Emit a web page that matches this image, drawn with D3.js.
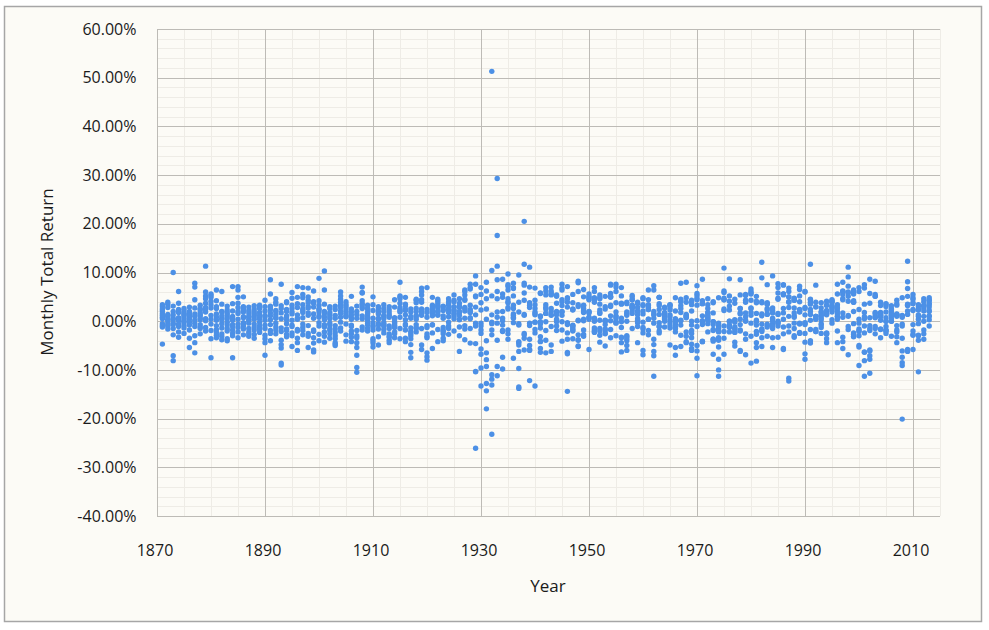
<!DOCTYPE html>
<html><head><meta charset="utf-8">
<script src="https://d3js.org/d3.v7.min.js"></script>
<style>
body{margin:0;background:#ffffff;}
svg text{font-family:"Open Sans","Noto Sans",sans-serif;fill:#1a1a1a;}
</style></head>
<body>
<svg id="chart" width="989" height="630"></svg>
<script>
// Monthly total returns in percent, 12 per year (Jan..Dec)
const returns1870s = [ // 1871-1879
 [2.1,3.0,0.5,-1.2,3.4,0.8,-0.5,1.6,-4.7,-0.9,2.5,1.2],
 [3.5,0.2,-1.0,1.4,2.8,-0.3,0.9,-1.6,1.1,3.9,-0.8,0.4],
 [10.0,-1.5,0.6,-7.1,2.0,-8.1,1.3,-0.7,-2.8,0.3,3.1,-0.4],
 [6.1,1.8,-2.2,0.5,3.7,-1.1,2.4,0.1,-0.6,1.9,-3.3,0.7],
 [2.6,-0.3,1.2,-2.5,0.8,1.7,-1.4,2.2,0.3,-0.9,1.5,0.0],
 [2.9,-3.5,1.1,-0.8,2.0,0.4,-5.4,1.6,-1.8,0.6,-0.2,1.3],
 [7.8,7.0,-4.4,-6.5,1.5,-0.4,2.7,0.2,-3.0,4.4,1.0,-1.1],
 [2.4,1.1,-1.2,1.4,0.3,-2.6,2.5,-0.7,1.8,0.6,3.3,-1.5],
 [11.3,5.2,3.7,2.4,0.5,6.0,-1.3,4.6,1.9,2.8,0.1,-2.0]
];
const returns1880s = [
 [5.6,4.1,-7.5,-3.6,1.2,4.9,0.4,-1.9,2.7,5.3,-0.6,3.4],
 [6.4,-1.7,2.6,-2.9,4.2,0.8,-3.4,1.5,-0.9,3.0,-2.3,0.2],
 [-3.1,2.0,-1.4,6.1,0.6,-2.6,1.9,3.5,-0.5,-3.8,1.1,0.3],
 [1.4,-2.0,3.1,-0.8,-4.0,0.9,2.3,-1.5,0.5,-3.6,1.8,-0.2],
 [-1.8,3.6,-2.5,-7.5,-3.0,1.0,7.1,0.2,-1.1,2.1,-0.7,0.6],
 [7.1,-1.3,2.8,6.4,-2.2,0.4,4.9,1.6,-0.6,3.7,2.0,-3.4],
 [2.4,-1.0,0.7,-2.8,5.0,1.9,-0.3,3.0,-1.6,0.9,2.6,-0.5],
 [0.8,-2.2,1.7,-0.4,2.9,-3.1,0.3,-1.5,2.2,-2.6,1.0,0.1],
 [-2.7,1.3,-1.8,2.5,-0.6,0.9,3.2,-3.5,1.6,-1.2,0.4,2.0],
 [2.8,-1.4,0.5,3.3,-0.9,1.8,-2.3,0.7,2.6,-0.2,1.2,-1.7]
];
const returns1890s = [
 [-7.0,2.1,-3.6,0.9,4.3,-1.5,1.2,-4.4,0.2,-2.9,3.0,-0.8],
 [8.5,-1.9,2.4,-4.0,1.7,0.3,-2.5,5.6,3.1,-0.7,1.1,2.8],
 [3.5,2.0,-1.2,0.6,-2.6,1.4,3.9,-0.4,2.2,-1.8,0.8,4.6],
 [-8.6,-9.0,7.6,-5.5,2.6,-3.9,-1.4,3.2,0.5,-2.1,1.7,-4.8],
 [3.8,-1.6,0.9,2.4,-3.2,1.1,-0.5,4.0,-1.9,0.3,2.0,-2.7],
 [5.9,-0.8,2.6,4.7,-2.4,1.5,3.3,-1.1,0.2,-3.0,1.9,-5.2],
 [-4.4,2.8,-1.7,0.6,-3.5,1.3,-6.0,4.9,7.1,3.6,-2.0,0.4],
 [2.5,-0.6,1.8,-1.3,3.4,4.8,6.9,5.5,-1.9,0.7,-2.8,2.2],
 [-5.4,3.0,6.8,-2.5,4.3,1.2,2.7,-0.9,1.7,-3.1,5.0,3.8],
 [6.2,-2.1,4.0,-6.3,1.5,-3.4,2.9,0.6,-1.8,3.7,-4.5,-5.9]
];
const returns1900s = [
 [3.3,-1.0,1.9,-2.7,-4.0,0.8,2.4,-0.3,1.1,4.2,8.8,2.5],
 [10.3,0.9,-2.2,6.4,-3.1,3.5,-4.3,1.6,-1.2,0.3,2.0,-0.7],
 [2.6,-0.8,1.4,-1.9,0.5,3.0,-2.6,1.8,-0.4,-3.5,-1.5,0.9],
 [-1.6,-3.0,-4.4,0.6,-2.3,-5.0,-3.6,1.2,-4.7,-0.9,3.1,2.4],
 [0.8,-1.4,2.1,3.3,-0.2,1.6,4.5,2.8,5.2,6.0,3.9,-2.0],
 [4.0,3.1,1.8,-2.8,-4.1,2.2,3.5,0.9,1.4,-0.6,2.7,1.0],
 [2.5,-3.3,0.4,-4.2,-1.1,-2.6,1.9,5.1,0.7,-0.8,1.3,-2.0],
 [-3.4,-9.5,-10.5,2.0,-5.4,-1.9,3.1,-7.0,0.6,-4.4,-3.0,1.4],
 [5.8,-1.2,3.6,2.9,7.0,0.5,4.2,2.6,-1.8,3.4,5.9,1.1],
 [-0.7,-2.0,2.5,3.3,1.8,0.9,2.6,1.5,-0.4,0.2,-1.4,0.7]
];
const returns1910s = [
 [-3.6,-1.8,2.2,-4.5,-0.9,-5.3,-4.0,3.4,0.6,5.0,-1.2,-0.3],
 [1.8,2.7,-0.5,-1.6,2.1,0.4,-0.8,-4.9,-3.2,1.5,3.0,0.6],
 [0.9,-0.6,3.4,2.6,-1.0,1.2,0.5,2.0,-0.3,-1.7,-2.4,-0.8],
 [-2.6,-3.9,0.8,-1.5,-3.0,-4.4,2.3,3.0,1.2,-3.3,-1.0,1.7],
 [4.4,-1.3,-0.5,-2.6,0.7,-0.9,-3.4,-0.2,0.4,-1.1,-2.2,2.9],
 [2.1,-1.5,5.0,8.0,-3.6,2.4,3.7,4.6,1.9,5.2,0.8,2.8],
 [-1.8,-0.6,1.3,-3.5,2.4,0.3,-0.9,3.1,4.9,2.2,3.5,-4.2],
 [0.6,-3.0,2.5,-2.1,-1.4,1.9,-3.6,-4.8,-2.5,-7.5,-6.4,1.0],
 [4.3,0.9,-1.5,2.6,3.8,-0.7,1.2,0.4,2.0,4.5,-2.2,-1.3],
 [1.2,2.5,3.9,5.4,6.8,2.0,4.4,-5.8,1.6,6.1,-4.9,-1.5]
];
const returns1920s = [
 [0.8,-8.0,6.9,-3.4,-6.5,-0.9,-3.1,1.8,2.4,-1.3,-7.3,-2.6],
 [3.0,1.5,-0.7,1.9,-2.4,-5.6,2.2,-0.8,3.3,1.1,4.9,2.6],
 [2.7,3.6,4.1,3.0,2.0,-1.7,3.2,4.5,1.2,2.0,-4.2,1.4],
 [3.1,2.2,-1.3,-4.0,-3.5,-2.6,-1.9,0.6,1.1,-2.1,3.0,2.5],
 [2.4,-1.5,-1.0,-2.7,1.8,3.3,4.0,2.6,-0.2,0.9,4.6,3.7],
 [2.2,1.0,-2.0,2.9,4.0,0.5,4.3,1.6,2.2,5.4,1.5,3.0],
 [0.4,-1.2,-6.2,1.8,0.3,4.6,3.7,3.1,1.2,-3.0,2.8,2.0],
 [-0.9,4.3,0.6,2.1,5.4,-1.6,6.4,2.8,4.5,-3.8,6.1,2.6],
 [0.7,-1.5,7.6,3.3,2.2,-4.5,1.8,6.6,2.4,1.9,6.9,0.5],
 [5.2,-0.4,-1.0,1.3,-4.6,9.3,5.0,7.6,-10.3,-26.1,-10.4,2.9]
];
const returns1930s = [
 [5.5,3.8,6.9,-1.0,-1.8,-13.3,2.3,-0.4,-5.7,-9.6,-2.5,-6.8],
 [6.2,8.0,-6.5,-9.3,-12.8,-14.3,2.5,0.4,-18.0,4.6,-7.9,-4.0],
 [-0.5,5.2,-11.9,-23.2,-13.1,-11.0,51.3,10.4,-2.8,-1.8,-0.2,1.3],
 [0.8,-11.2,4.6,29.3,17.6,11.3,-9.3,8.5,-0.4,-3.9,6.1,1.9],
 [8.6,-2.1,0.1,-2.0,-7.4,2.0,-9.8,5.6,-0.8,-1.9,4.9,0.6],
 [-3.7,-1.8,-2.6,9.7,3.8,6.4,7.2,2.5,2.8,7.5,4.6,4.0],
 [6.9,2.6,0.8,-7.6,5.2,3.3,6.7,1.2,0.6,7.8,1.5,-0.3],
 [3.9,1.9,-0.8,-6.2,-0.5,-4.4,9.5,-4.9,-13.8,-9.7,-13.5,-4.2],
 [1.4,5.8,-5.9,20.5,-3.5,11.7,7.4,-2.5,1.2,7.8,-2.8,4.3],
 [-5.8,3.8,-12.2,-0.4,7.0,-5.0,11.1,-6.0,2.8,-0.9,-3.7,3.3]
];
const returns1940s = [
 [-2.4,1.3,1.6,-0.2,-13.3,6.8,3.4,2.6,1.9,4.3,-1.7,-0.2],
 [-4.2,-1.4,1.1,-5.6,0.9,5.8,5.7,-0.1,-0.6,-6.4,-3.2,-4.1],
 [1.6,-1.9,-6.5,-3.9,6.2,2.5,3.4,1.6,2.8,6.9,-0.1,5.4],
 [7.0,5.8,5.5,1.2,5.4,2.0,-4.9,1.3,2.6,-1.1,-6.2,6.2],
 [1.7,0.4,2.0,-1.0,5.1,5.4,-1.9,1.6,-0.1,0.2,1.3,3.7],
 [2.0,6.8,-4.1,7.6,1.9,-0.1,-1.8,6.4,4.4,3.2,4.0,1.2],
 [7.1,-6.4,4.8,3.9,2.9,-3.7,-2.4,-6.7,-14.4,-0.7,-0.3,4.6],
 [2.5,-0.8,-1.5,-3.6,-0.9,5.5,3.8,-2.0,-1.1,2.4,-1.8,2.3],
 [-3.8,-3.9,8.2,3.0,7.9,0.1,-5.1,0.2,-2.8,6.1,-5.2,3.4],
 [0.4,-2.7,3.3,-1.8,-3.1,0.1,6.5,2.2,2.6,3.2,1.8,5.0]
];
const returns1950s = [
 [1.9,2.0,0.7,4.9,5.1,-5.8,0.8,4.4,5.6,0.4,1.7,4.6],
 [6.1,0.6,-1.8,4.8,-2.1,-2.3,6.9,4.3,0.0,-1.4,0.5,3.9],
 [1.6,-2.9,4.8,-4.3,2.3,4.6,1.8,-1.5,-2.0,0.2,5.4,3.5],
 [-0.7,-1.8,-2.4,-2.6,0.0,-1.6,2.5,-5.1,0.1,5.1,3.0,0.2],
 [5.1,1.1,3.0,4.9,3.3,0.1,5.7,-3.4,7.6,-1.7,7.4,5.0],
 [1.9,0.9,-0.4,3.8,0.6,7.0,6.1,-0.3,1.1,-3.0,7.6,0.0],
 [-3.4,3.6,6.9,-0.1,-6.3,3.7,5.2,-3.3,-4.4,0.6,-1.3,3.5],
 [-4.0,-3.0,1.9,3.9,3.6,0.0,1.2,-5.0,-6.0,-3.2,1.6,-3.6],
 [4.4,-1.5,3.3,3.2,2.2,2.8,4.4,1.6,5.0,2.8,2.8,5.3],
 [0.5,0.2,0.1,3.9,2.1,-0.3,3.6,-1.1,-4.4,1.3,1.9,2.8]
];
const returns1960s = [
 [-6.9,1.5,-1.3,-1.6,3.4,2.1,-2.4,3.2,-6.0,-0.2,4.6,4.8],
 [6.4,3.2,2.8,0.4,2.4,-2.8,3.4,2.4,-1.9,2.9,4.4,0.4],
 [-3.7,2.0,-0.4,-6.2,-11.3,-7.1,6.4,1.5,-4.8,0.6,7.3,1.3],
 [4.9,-2.4,3.6,4.9,1.4,-2.0,-0.3,4.9,-1.1,3.2,-1.1,2.4],
 [2.7,1.0,1.5,0.6,1.6,1.6,1.8,-1.2,2.9,0.8,0.0,0.4],
 [3.3,0.2,-1.4,3.4,-0.3,-4.9,1.3,2.3,3.3,2.7,-0.9,0.9],
 [0.5,-1.4,-2.2,2.1,-5.4,-1.5,-1.3,-7.0,-0.7,4.8,0.3,-0.2],
 [7.8,0.2,4.0,4.2,-5.2,1.8,4.5,-0.8,3.2,-2.9,0.1,2.6],
 [-4.4,-3.1,0.9,8.0,1.4,0.9,-2.2,1.2,3.9,0.7,4.8,-4.2],
 [-0.8,-4.7,3.4,2.1,0.0,-5.6,-6.0,4.0,-2.5,4.3,-3.4,-1.9]
];
const returns1970s = [
 [-7.6,5.3,0.1,-11.2,-6.1,-5.0,7.3,4.4,3.3,-1.1,4.7,5.7],
 [4.2,1.1,3.7,3.6,-4.2,0.1,-4.1,3.6,-0.7,-4.2,-0.2,8.6],
 [1.8,2.6,0.6,0.4,1.7,-2.2,0.2,3.4,-0.5,0.9,4.6,1.2],
 [-1.7,-3.7,-0.1,-4.1,-1.9,-0.7,3.8,-3.7,4.0,-0.1,-6.8,1.7],
 [-1.0,-0.4,-2.2,-3.9,-3.4,-1.5,-7.8,-10.0,-11.3,4.8,-5.3,-2.0],
 [10.9,5.9,2.2,4.7,4.4,4.4,-6.8,-2.1,-3.5,6.2,2.5,-1.0],
 [8.7,0.0,3.1,-1.1,-1.3,4.1,-0.8,0.0,2.3,-2.2,-0.8,5.2],
 [-5.1,-2.2,-1.2,0.1,-2.3,4.5,-1.6,-1.5,-0.2,-4.3,3.7,0.3],
 [-6.0,-2.0,2.6,8.5,0.4,-1.8,5.4,2.6,-0.7,-6.2,1.7,1.5],
 [4.2,-3.7,5.5,0.2,-2.6,3.9,0.9,5.3,0.0,-6.9,4.3,1.7]
];
const returns1980s = [
 [5.8,-0.4,-8.6,4.3,5.6,2.7,6.6,1.2,2.6,1.8,6.1,-3.1],
 [-4.4,1.6,3.8,-2.1,0.2,-0.8,-0.1,-8.2,-5.4,5.1,4.1,-2.7],
 [-1.6,-5.2,-0.6,4.0,-3.4,-1.8,-2.1,12.1,1.1,8.9,3.8,1.5],
 [3.5,2.6,3.6,7.5,-0.9,3.8,-3.1,1.5,1.4,-1.2,2.3,-0.6],
 [-0.6,-3.4,1.7,0.6,-5.4,2.2,-1.5,9.3,0.0,0.4,-1.0,2.7],
 [7.7,1.4,0.0,-0.3,5.8,1.6,-0.4,-1.0,-3.3,4.5,6.9,4.7],
 [0.4,7.5,5.6,-1.2,5.4,1.7,-5.6,7.4,-5.8,5.6,2.6,-2.6],
 [6.8,4.0,2.8,-1.0,1.0,5.0,5.0,3.9,-2.2,-12.3,-11.7,6.1],
 [4.3,4.7,-3.0,1.1,0.8,4.6,-0.4,-3.3,4.3,2.7,-1.5,1.7],
 [7.2,-2.5,2.3,5.2,4.0,-0.6,6.5,1.9,-0.4,-2.3,2.0,2.4]
];
const returns1990s = [
 [-6.7,1.3,2.6,-2.5,6.1,-0.7,-0.3,-7.8,-4.3,-0.4,6.0,2.8],
 [4.4,11.7,2.4,0.2,3.9,-4.5,4.5,2.0,-1.7,1.4,-4.0,3.5],
 [7.4,1.0,-2.1,2.9,0.5,-1.7,3.9,-2.1,1.0,0.4,3.0,1.0],
 [0.7,1.4,1.9,-2.5,2.7,0.3,-0.5,3.8,-0.8,1.9,-1.3,1.2],
 [3.3,-2.7,-4.4,1.3,1.6,-2.5,3.3,4.1,-2.4,2.2,-3.6,1.5],
 [2.6,3.9,3.0,2.9,4.0,2.3,3.3,0.3,4.2,-0.4,4.4,1.9],
 [3.4,0.9,1.0,1.5,2.6,0.4,-4.4,2.0,5.6,2.8,7.6,-2.0],
 [6.2,0.8,-4.2,6.0,6.1,4.4,8.0,-5.6,5.5,-3.3,4.6,1.7],
 [1.2,7.2,5.1,1.0,-1.7,4.1,-1.1,-6.9,11.1,9.1,6.0,5.8],
 [4.2,-3.2,3.9,3.9,-2.4,5.6,-3.1,-0.5,-2.7,6.4,2.0,5.9]
];
const returns2000s = [
 [-5.0,-1.9,6.9,-3.0,-2.1,2.4,-1.6,6.1,-5.3,-0.4,-9.1,0.4],
 [3.5,-11.3,-6.4,6.8,0.5,-2.4,-1.0,-6.3,-8.1,1.8,7.5,0.9],
 [-1.5,-1.9,3.7,-6.1,-0.9,-7.1,-7.8,0.7,-10.7,8.6,5.7,-5.9],
 [-2.6,-1.5,0.8,8.2,5.1,1.1,1.6,1.8,-1.1,5.5,0.7,5.1],
 [1.7,1.2,-1.6,-1.7,1.2,1.8,-3.4,0.2,0.9,1.4,3.9,3.2],
 [-2.5,1.9,-1.9,-2.0,3.0,0.0,3.6,-1.1,0.7,-1.8,3.5,0.0],
 [2.5,0.0,1.1,1.2,-3.1,0.0,0.5,2.1,2.5,3.2,1.6,1.3],
 [1.4,-2.2,1.0,4.3,3.3,-1.8,-3.2,1.3,3.6,1.5,-4.4,-0.9],
 [-6.1,-3.5,-0.6,4.8,1.1,-8.5,-1.0,1.2,-9.1,-20.1,-7.4,0.8],
 [-6.2,-5.8,3.2,12.3,8.1,6.7,3.3,5.1,3.4,1.4,2.1,3.5]
];
const returns2010s = [ // 2010-2013
 [-0.7,-2.9,5.5,4.5,-5.8,-2.7,-2.0,2.2,3.6,4.8,2.4,3.8],
 [3.0,3.4,-0.5,2.4,0.4,-2.9,1.0,-10.4,-3.9,2.3,-3.0,1.3],
 [4.0,4.6,3.2,0.0,-3.7,-2.6,3.2,2.6,3.1,1.0,-1.8,2.1],
 [4.3,3.4,2.9,0.3,4.8,-1.0,2.0,1.1,1.0,3.7,4.3,2.2]
];
const decadeFirstYears = [1871,1880,1890,1900,1910,1920,1930,1940,1950,1960,1970,1980,1990,2000,2010];
const decadeBlocks = [returns1870s,returns1880s,returns1890s,returns1900s,returns1910s,returns1920s,returns1930s,returns1940s,returns1950s,returns1960s,returns1970s,returns1980s,returns1990s,returns2000s,returns2010s];
const xTickYears = [1870,1890,1910,1930,1950,1970,1990,2010];
const yTickValues = [-0.4,-0.3,-0.2,-0.1,0,0.1,0.2,0.3,0.4,0.5,0.6];
const xTitle = "Year";
const yTitle = "Monthly Total Return";

(function draw() {
  const points = [];
  decadeBlocks.forEach((block, bi) => {
    block.forEach((months, yi) => {
      const yr = decadeFirstYears[bi] + yi;
      months.forEach(v => points.push({year: yr, value: v / 100}));
    });
  });

  const svg = d3.select("#chart");
  svg.append("rect").attr("x",4.5).attr("y",6.5).attr("width",977).attr("height",615)
    .attr("fill","#fcfbf6").attr("stroke","#a6a6a6").attr("stroke-width",1.5);

  const pL = 157, pR = 940, pT = 29, pB = 516;
  const x = d3.scaleLinear().domain([1870, 2015]).range([pL, pR]);
  const y = d3.scaleLinear().domain([-0.4, 0.6]).range([pB, pT]);

  const g = svg.append("g");
  g.selectAll(".vminor").data(d3.range(1870, 2016, 5)).join("line")
    .attr("x1", d => Math.round(x(d)) + 0.5).attr("x2", d => Math.round(x(d)) + 0.5)
    .attr("y1", pT).attr("y2", pB).attr("stroke", "#eeece6").attr("stroke-width", 1);
  g.selectAll(".hminor").data(d3.range(-40, 61, 2).map(d => d / 100)).join("line")
    .attr("x1", pL).attr("x2", pR)
    .attr("y1", d => Math.round(y(d)) + 0.5).attr("y2", d => Math.round(y(d)) + 0.5)
    .attr("stroke", "#eeece6").attr("stroke-width", 1);
  g.selectAll(".vmajor").data(xTickYears).join("line")
    .attr("x1", d => Math.round(x(d)) + 0.5).attr("x2", d => Math.round(x(d)) + 0.5)
    .attr("y1", pT).attr("y2", pB).attr("stroke", "#bdbbb6").attr("stroke-width", 1);
  g.selectAll(".hmajor").data(yTickValues).join("line")
    .attr("x1", pL).attr("x2", pR)
    .attr("y1", d => Math.round(y(d)) + 0.5).attr("y2", d => Math.round(y(d)) + 0.5)
    .attr("stroke", "#bdbbb6").attr("stroke-width", 1);

  const fmt = d3.format(".2%");
  g.selectAll(".ylab").data(yTickValues).join("text")
    .attr("x", 136.5).attr("y", d => y(d)).attr("dy", "0.35em")
    .attr("text-anchor", "end").attr("font-size", 16).text(d => fmt(d).replace("\u2212","-"));
  g.selectAll(".xlab").data(xTickYears).join("text")
    .attr("x", d => x(d) - 2).attr("y", 550).attr("dy", "0.35em")
    .attr("text-anchor", "middle").attr("font-size", 16).text(d => d);

  svg.append("text").attr("x", 548).attr("y", 586).attr("dy","0.35em")
    .attr("text-anchor","middle").attr("font-size", 17).text(xTitle);
  svg.append("text").attr("transform","translate(47,272) rotate(-90)").attr("dy","0.35em")
    .attr("text-anchor","middle").attr("font-size", 17).text(yTitle);

  svg.append("g").selectAll("circle").data(points).join("circle")
    .attr("cx", d => x(d.year)).attr("cy", d => y(d.value)).attr("r", 2.7)
    .attr("fill", "#4c90e6");
})();
</script>
</body></html>
